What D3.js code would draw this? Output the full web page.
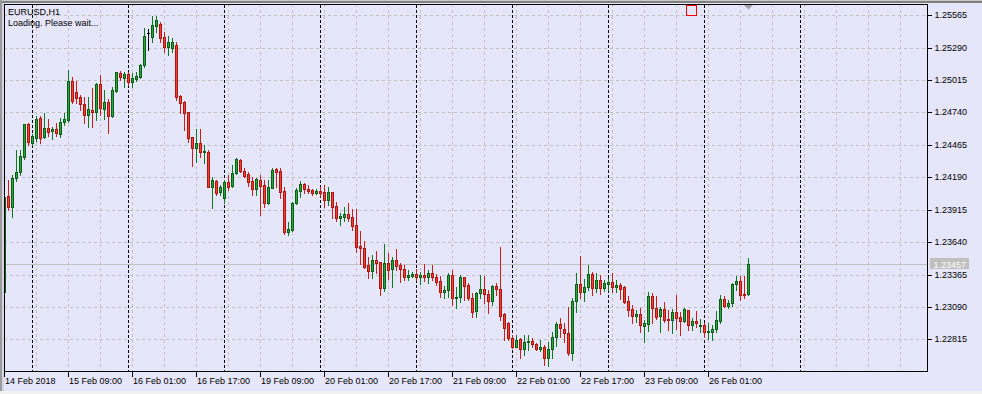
<!DOCTYPE html>
<html><head><meta charset="utf-8">
<script src="https://cdn.jsdelivr.net/npm/d3@7/dist/d3.min.js"></script>
<style>
html,body{margin:0;padding:0;background:#e6e6fa;overflow:hidden}
svg{display:block}
text{font-family:"Liberation Sans",Arial,sans-serif;font-size:9px}
</style></head><body>
<svg id="c" width="982" height="394"></svg>
<script>
const symbolText = "EURUSD,H1";
const statusText = "Loading. Please wait...";

const openP = [1.2322,1.24031,1.2394,1.24181,1.24237,1.24365,1.2464,1.24483,1.24526,1.24691,
1.24534,1.24608,1.24583,1.24597,1.24557,1.24657,1.24676,1.25007,1.24916,1.24869,
1.24812,1.24716,1.24761,1.24747,1.24982,1.24772,1.24829,1.2471,1.24922,1.25073,
1.2503,1.25064,1.25001,1.25024,1.25044,1.25143,1.25412,1.25383,1.25474,1.25491,
1.25383,1.25299,1.25287,1.25313,1.24883,1.24829,1.24742,1.24529,1.24436,1.24478,
1.24402,1.24405,1.2411,1.24158,1.24062,1.24011,1.24147,1.24118,1.24224,1.24337,
1.24243,1.24218,1.24158,1.24088,1.24167,1.24122,1.23969,1.24101,1.24258,1.24246,
1.24073,1.23728,1.23742,1.23969,1.24076,1.24133,1.2409,1.24082,1.24059,1.24073,
1.24062,1.23997,1.24062,1.23946,1.23847,1.23855,1.23878,1.23853,1.23785,1.23606,
1.23592,1.23445,1.23397,1.23488,1.23468,1.23247,1.2346,1.23409,1.23488,1.23443,
1.23409,1.23346,1.23352,1.23369,1.23341,1.2336,1.23346,1.23375,1.23341,1.23309,
1.23218,1.23233,1.2336,1.23162,1.23171,1.23341,1.23275,1.23162,1.23057,1.23205,
1.23239,1.23199,1.23142,1.23269,1.23239,1.23027,1.2295,1.22823,1.22752,1.22814,
1.22729,1.22789,1.228,1.22774,1.22729,1.22746,1.22653,1.22732,1.22836,1.22942,
1.22899,1.22865,1.22701,1.2314,1.23284,1.23218,1.23256,1.23369,1.23247,1.23318,
1.23252,1.23286,1.23301,1.23256,1.23275,1.23261,1.2314,1.23072,1.23012,1.23029,
1.22927,1.22944,1.23182,1.23078,1.23012,1.23072,1.22987,1.22978,1.23049,1.23006,
1.2297,1.23063,1.22936,1.22972,1.2293,1.22936,1.22876,1.22879,1.22899,1.22972,
1.23154,1.231,1.2312,1.23281,1.23309,1.23199,1.23196];

const highP = [1.2403,1.24167,1.24209,1.24421,1.24421,1.24645,1.24653,1.24557,1.2471,1.2471,
1.24733,1.24682,1.24619,1.24648,1.24691,1.24733,1.25101,1.25044,1.25007,1.24888,
1.24869,1.24869,1.24945,1.24993,1.25058,1.24931,1.24852,1.24959,1.25086,1.25092,
1.25086,1.25086,1.25078,1.25086,1.25149,1.25455,1.25446,1.25562,1.25559,1.25508,
1.25426,1.25389,1.25372,1.25338,1.24891,1.2484,1.24745,1.24532,1.24597,1.24597,
1.24461,1.24421,1.24195,1.24167,1.24124,1.24167,1.24209,1.24294,1.24351,1.24345,
1.24266,1.24237,1.2419,1.24181,1.24209,1.24167,1.24167,1.24266,1.24266,1.24266,
1.24105,1.23813,1.23983,1.24096,1.24158,1.24139,1.24124,1.2409,1.24088,1.2411,
1.24124,1.2411,1.24065,1.23977,1.23889,1.23935,1.23974,1.23918,1.23918,1.23734,
1.23651,1.23511,1.2353,1.23564,1.2347,1.23623,1.23544,1.23516,1.23581,1.2346,
1.23445,1.23403,1.23388,1.23411,1.23383,1.23454,1.23403,1.23445,1.23369,1.23352,
1.23267,1.23375,1.23403,1.23261,1.2336,1.23345,1.2329,1.23205,1.23218,1.2336,
1.23352,1.23233,1.23275,1.23295,1.23601,1.23035,1.22964,1.22851,1.22851,1.22823,
1.22851,1.22851,1.22823,1.2278,1.22808,1.22766,1.22794,1.22879,1.22964,1.22993,
1.2295,1.23091,1.23162,1.23375,1.23522,1.23324,1.23445,1.23388,1.23375,1.2336,
1.23318,1.23332,1.2338,1.23318,1.23295,1.23267,1.23182,1.23103,1.23063,1.23078,
1.22978,1.23213,1.23205,1.23182,1.23091,1.23134,1.23063,1.23072,1.2319,1.23049,
1.23078,1.23066,1.22998,1.23057,1.22987,1.2295,1.2295,1.22936,1.23055,1.2319,
1.23182,1.23148,1.2329,1.23352,1.23352,1.23352,1.23502];

const lowP = [1.2320,1.23912,1.2385,1.24161,1.24207,1.24348,1.24464,1.24464,1.245,1.24478,
1.24521,1.2454,1.24515,1.2454,1.24534,1.24634,1.24662,1.24818,1.24823,1.24761,
1.24648,1.24614,1.24619,1.24676,1.24719,1.24682,1.24568,1.24699,1.24916,1.25016,
1.24959,1.24973,1.24959,1.25007,1.2503,1.25129,1.2527,1.25341,1.25426,1.25341,
1.25256,1.25228,1.25254,1.24846,1.24733,1.24591,1.24492,1.24286,1.24322,1.24365,
1.24314,1.24105,1.23932,1.24039,1.24039,1.23969,1.24082,1.24105,1.24218,1.24235,
1.2419,1.24116,1.24039,1.24039,1.2387,1.2394,1.23963,1.24096,1.24105,1.24011,
1.23708,1.237,1.23736,1.23963,1.24025,1.24059,1.24054,1.24039,1.24048,1.24031,
1.2394,1.23955,1.23847,1.23821,1.23785,1.23821,1.23821,1.23742,1.23558,1.23454,
1.23417,1.23337,1.23332,1.2338,1.2319,1.23227,1.23324,1.23256,1.23403,1.23303,
1.23318,1.23318,1.23341,1.23318,1.23284,1.23309,1.2329,1.23318,1.23275,1.23176,
1.23162,1.23176,1.23106,1.23078,1.23134,1.23148,1.23148,1.23001,1.23001,1.23162,
1.2312,1.23035,1.23106,1.2319,1.22978,1.22808,1.22808,1.22738,1.22746,1.22653,
1.22681,1.22723,1.22752,1.22723,1.22715,1.22596,1.22588,1.22653,1.22757,1.22836,
1.22794,1.22681,1.22639,1.23049,1.23162,1.23142,1.23233,1.2319,1.23218,1.23199,
1.23227,1.23233,1.23218,1.23218,1.23154,1.2312,1.23012,1.22955,1.22964,1.22879,
1.22794,1.22887,1.22955,1.22984,1.22879,1.22964,1.22893,1.2287,1.22899,1.22851,
1.22964,1.22893,1.22893,1.22921,1.22879,1.22836,1.22814,1.22808,1.22879,1.2295,
1.23091,1.23078,1.23097,1.23233,1.23148,1.23162,1.2319];

const closeP = [1.2402,1.2394,1.24181,1.24237,1.24371,1.2464,1.24492,1.2454,1.24685,1.24526,
1.24606,1.24577,1.24597,1.24563,1.24662,1.24682,1.25007,1.2484,1.24866,1.24809,
1.24716,1.24767,1.24742,1.24982,1.24776,1.24829,1.24713,1.24931,1.25081,1.25044,
1.25064,1.25001,1.2503,1.2505,1.25143,1.25389,1.25412,1.25483,1.25525,1.2537,
1.25299,1.25341,1.25338,1.24874,1.24823,1.24733,1.24521,1.24436,1.24478,1.24402,
1.2441,1.2411,1.24167,1.24054,1.24105,1.24147,1.2411,1.24224,1.24345,1.24243,
1.24203,1.24152,1.24093,1.24173,1.24118,1.23974,1.24105,1.24252,1.24237,1.24067,
1.23728,1.23751,1.23974,1.24082,1.24133,1.24088,1.24076,1.24059,1.24076,1.24059,
1.23997,1.24062,1.2394,1.23847,1.23861,1.23878,1.23847,1.23779,1.23601,1.23592,
1.23431,1.23397,1.23488,1.23465,1.23252,1.23465,1.23403,1.23488,1.23439,1.23409,
1.23346,1.2336,1.23369,1.23346,1.2336,1.23346,1.23375,1.23341,1.23303,1.23218,
1.23233,1.2336,1.23162,1.23171,1.23341,1.23269,1.23162,1.23049,1.23205,1.23239,
1.23196,1.23142,1.23269,1.23239,1.23015,1.22908,1.22823,1.22752,1.22808,1.22729,
1.22789,1.228,1.22772,1.22729,1.22746,1.22653,1.22732,1.22836,1.22942,1.22908,
1.22865,1.22701,1.2314,1.23284,1.23218,1.23256,1.23369,1.23247,1.23318,1.23252,
1.23295,1.23303,1.23256,1.23275,1.23241,1.23134,1.23063,1.23012,1.23029,1.22936,
1.2295,1.23182,1.23078,1.23001,1.23072,1.22978,1.22978,1.23049,1.22993,1.2297,
1.23069,1.22936,1.22972,1.2295,1.22936,1.22879,1.22885,1.22902,1.22978,1.23154,
1.231,1.23125,1.23284,1.23309,1.2319,1.2319,1.23457];

const priceTicks = [1.22815,1.23090,1.23365,1.23640,1.23915,1.24190,1.24465,1.24740,1.25015,1.25290,1.25565];
const timeLabels = ["14 Feb 2018","15 Feb 09:00","16 Feb 01:00","16 Feb 17:00","19 Feb 09:00","20 Feb 01:00","20 Feb 17:00","21 Feb 09:00","22 Feb 01:00","22 Feb 17:00","23 Feb 09:00","26 Feb 01:00"];
const timeLabelBars = [0,16,32,48,64,80,96,112,128,144,160,176];
const daySeparatorBars = [7,31,55,79,103,127,151,175,199];
const lastPrice = 1.23457;

const svg = d3.select("#c");
const W = 982, H = 394;
const P = {l:4, t:4, r:927, b:371};

const x = d3.scaleLinear().domain([0, 231]).range([4, 928]);
const y = d3.scaleLinear().domain([1.22815, 1.25565]).range([339.3, 15.3]);
const py = v => Math.round(y(v));

// background
svg.append("rect").attr("width", W).attr("height", H).attr("fill", "#e6e6fa");
// window borders
svg.append("rect").attr("x",0).attr("y",0).attr("width",W).attr("height",1).attr("fill","#c8c8c8");
svg.append("rect").attr("x",0).attr("y",1).attr("width",W).attr("height",2).attr("fill","#808080");
svg.append("rect").attr("x",0).attr("y",0).attr("width",2).attr("height",H).attr("fill","#9a9a9a");
svg.append("rect").attr("x",2).attr("y",3).attr("width",2).attr("height",H-3).attr("fill","#d4d4e4");
svg.append("rect").attr("x",0).attr("y",391).attr("width",W).attr("height",3).attr("fill","#f0f0f0");

svg.append("defs").append("clipPath").attr("id","pc")
  .append("rect").attr("x",P.l+1).attr("y",P.t+1).attr("width",P.r-P.l-1).attr("height",P.b-P.t-1);

const g = svg.append("g").attr("clip-path","url(#pc)").attr("shape-rendering","crispEdges");

// grid horizontal
g.selectAll("line.hg").data(priceTicks).enter().append("line")
  .attr("x1",P.l).attr("x2",P.r).attr("y1",d=>py(d)+0.5).attr("y2",d=>py(d)+0.5)
  .attr("stroke","#c0c0c0").attr("stroke-dasharray","3,3");
// grid vertical
const vgrid = d3.range(8, 232, 8);
g.selectAll("line.vg").data(vgrid).enter().append("line")
  .attr("x1",d=>Math.round(x(d))+0.5).attr("x2",d=>Math.round(x(d))+0.5)
  .attr("y1",P.t).attr("y2",P.b)
  .attr("stroke","#c0c0c0").attr("stroke-dasharray","3,3");
// day separators
g.selectAll("line.sep").data(daySeparatorBars).enter().append("line")
  .attr("x1",d=>Math.round(x(d))+0.5).attr("x2",d=>Math.round(x(d))+0.5)
  .attr("y1",P.t+1).attr("y2",P.b)
  .attr("stroke","#000").attr("stroke-dasharray","3,2");

// last price line
g.append("line").attr("x1",P.l).attr("x2",P.r)
  .attr("y1",py(lastPrice)+0.5).attr("y2",py(lastPrice)+0.5).attr("stroke","#c0c0c0");

// candles
const bars = openP.map((o,i)=>({i,o,h:highP[i],l:lowP[i],c:closeP[i]}));
const col = d => d.c > d.o ? {w:"#0a7a1c",out:"#0b5e16",fill:"#2aa63c"} :
               d.c < d.o ? {w:"#d01c16",out:"#b0140e",fill:"#ee4234"} :
                           {w:"#000",out:"#000",fill:"#000"};
const cg = g.selectAll("g.bar").data(bars).enter().append("g");
cg.append("rect")
  .attr("x",d=>Math.round(x(d.i)))
  .attr("y",d=>py(d.h))
  .attr("width",1)
  .attr("height",d=>py(d.l)-py(d.h)+1)
  .attr("fill",d=>col(d).w);
cg.append("rect")
  .attr("x",d=>Math.round(x(d.i))-1)
  .attr("y",d=>py(Math.max(d.o,d.c)))
  .attr("width",3)
  .attr("height",d=>Math.max(1, py(Math.min(d.o,d.c))-py(Math.max(d.o,d.c))+1))
  .attr("fill",d=>col(d).out);
cg.filter(d=>py(Math.min(d.o,d.c))-py(Math.max(d.o,d.c))>=2).append("rect")
  .attr("x",d=>Math.round(x(d.i)))
  .attr("y",d=>py(Math.max(d.o,d.c))+1)
  .attr("width",1)
  .attr("height",d=>py(Math.min(d.o,d.c))-py(Math.max(d.o,d.c))-1)
  .attr("fill",d=>col(d).fill);

// frame
svg.append("rect").attr("x",P.l+0.5).attr("y",P.t+0.5).attr("width",P.r-P.l).attr("height",P.b-P.t)
  .attr("fill","none").attr("stroke","#000").attr("shape-rendering","crispEdges");

// right axis
const ya = svg.append("g").attr("transform",`translate(${P.r},0)`)
  .call(d3.axisRight(y).tickValues(priceTicks).tickSize(4).tickPadding(3).tickFormat(d3.format(".5f")));
ya.select(".domain").remove();
ya.selectAll(".tick").attr("transform", d=>`translate(0.5,${py(d)+0.5})`);
ya.selectAll("line").attr("stroke","#000").attr("shape-rendering","crispEdges");
ya.selectAll("text").attr("fill","#000").style("font-family","Liberation Sans, Arial, sans-serif").style("font-size","9px");

// bottom axis
const xa = svg.append("g").attr("transform",`translate(0,${P.b})`)
  .call(d3.axisBottom(x).tickValues(timeLabelBars).tickSize(5).tickFormat((d,i)=>timeLabels[i]));
xa.select(".domain").remove();
xa.selectAll(".tick").attr("transform", d=>`translate(${Math.round(x(d))+0.5},0.5)`);
xa.selectAll("line").attr("stroke","#000").attr("shape-rendering","crispEdges");
xa.selectAll("text").attr("text-anchor","start").attr("x",0.5).attr("y",6)
  .attr("fill","#000").style("font-family","Liberation Sans, Arial, sans-serif").style("font-size","9px");

// last price label
const ly = py(lastPrice);
svg.append("rect").attr("x",930).attr("y",ly-6).attr("width",39).attr("height",11).attr("fill","#c0c0c0");
svg.append("text").attr("x",933.5).attr("y",ly+3.5).attr("fill","#fff").text(d3.format(".5f")(lastPrice));

// titles
svg.append("text").attr("x",8).attr("y",15).attr("fill","#000").text(symbolText);
svg.append("text").attr("x",8).attr("y",26).attr("fill","#000").text(statusText);

// trade level marker and shift marker
svg.append("rect").attr("x",686.5).attr("y",5.5).attr("width",10).attr("height",10)
  .attr("fill","none").attr("stroke","#ff0000").attr("shape-rendering","crispEdges");
svg.append("path").attr("d","M744,5 L753,5 L748.5,9.5 Z").attr("fill","#a0a0a8");
</script>
</body></html>
